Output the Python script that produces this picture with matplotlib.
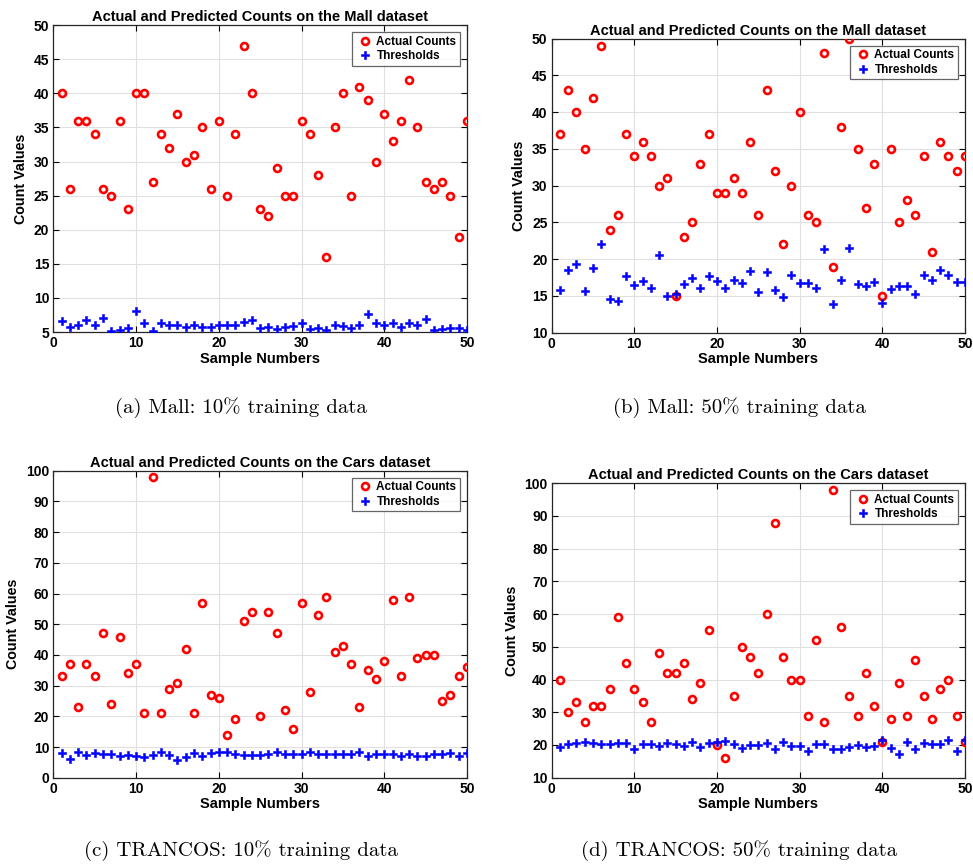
import matplotlib
matplotlib.use("Agg")
import matplotlib.pyplot as plt
import numpy as np

# sample index 1..50
samples = np.arange(1, 51)

# (a) Mall, 10% training
mall10_actual = [40, 26, 36, 36, 34, 26, 25, 36, 23, 40,
                 40, 27, 34, 32, 37, 30, 31, 35, 26, 36,
                 25, 34, 47, 40, 23, 22, 29, 25, 25, 36,
                 34, 28, 16, 35, 40, 25, 41, 39, 30, 37,
                 33, 36, 42, 35, 27, 26, 27, 25, 19, 36]
mall10_thresh = [6.6, 5.7, 6.0, 6.7, 6.0, 7.1, 5.1, 5.35, 5.6, 8.1,
                 6.4, 5.1, 6.3, 6.1, 6.0, 5.7, 6.1, 5.7, 5.7, 6.0,
                 6.0, 6.0, 6.5, 6.7, 5.65, 5.8, 5.5, 5.7, 5.9, 6.4,
                 5.45, 5.65, 5.3, 6.0, 5.9, 5.65, 6.0, 7.7, 6.3, 6.1,
                 6.3, 5.7, 6.4, 6.1, 6.85, 5.25, 5.5, 5.65, 5.55, 5.35]

# (b) Mall, 50% training
mall50_actual = [37, 43, 40, 35, 42, 49, 24, 26, 37, 34,
                 36, 34, 30, 31, 15, 23, 25, 33, 37, 29,
                 29, 31, 29, 36, 26, 43, 32, 22, 30, 40,
                 26, 25, 48, 19, 38, 50, 35, 27, 33, 15,
                 35, 25, 28, 26, 34, 21, 36, 34, 32, 34]
mall50_thresh = [15.8, 18.5, 19.3, 15.7, 18.75, 22.1, 14.6, 14.35, 17.75, 16.5,
                 17.0, 16.1, 20.6, 15.0, 15.2, 16.6, 17.4, 16.1, 17.75, 17.0,
                 16.1, 17.1, 16.8, 18.4, 15.6, 18.2, 15.8, 14.8, 17.85, 16.7,
                 16.7, 16.1, 21.4, 13.9, 17.1, 21.5, 16.6, 16.35, 16.9, 14.1,
                 16.0, 16.3, 16.4, 15.3, 17.85, 17.1, 18.5, 17.85, 16.9, 16.85]

# (c) TRANCOS, 10% training
cars10_actual = [33, 37, 23, 37, 33, 47, 24, 46, 34, 37,
                 21, 98, 21, 29, 31, 42, 21, 57, 27, 26,
                 14, 19, 51, 54, 20, 54, 47, 22, 16, 57,
                 28, 53, 59, 41, 43, 37, 23, 35, 32, 38,
                 58, 33, 59, 39, 40, 40, 25, 27, 33, 36]
cars10_thresh = [8.1, 6.2, 8.4, 7.5, 8.0, 7.7, 7.7, 7.2, 7.5, 7.1,
                 6.7, 7.3, 8.5, 7.3, 5.9, 6.8, 8.1, 7.2, 8.1, 8.4,
                 8.4, 7.8, 7.3, 7.3, 7.3, 7.6, 8.4, 7.8, 7.7, 7.6,
                 8.4, 7.8, 7.8, 7.6, 7.7, 7.7, 8.4, 7.0, 7.7, 7.7,
                 7.6, 7.0, 7.7, 7.0, 7.2, 7.7, 7.7, 7.9, 7.2, 7.9]

# (d) TRANCOS, 50% training
cars50_actual = [40, 30, 33, 27, 32, 32, 37, 59, 45, 37,
                 33, 27, 48, 42, 42, 45, 34, 39, 55, 20,
                 16, 35, 50, 47, 42, 60, 88, 47, 40, 40,
                 29, 52, 27, 98, 56, 35, 29, 42, 32, 21,
                 28, 39, 29, 46, 35, 28, 37, 40, 29, 21]
cars50_thresh = [19.3, 20.3, 20.7, 21.0, 20.6, 20.4, 20.4, 20.6, 20.6, 18.9,
                 20.4, 20.4, 19.8, 20.6, 20.4, 19.6, 21.0, 19.3, 20.7, 20.9,
                 21.3, 20.3, 19.2, 20.1, 20.1, 20.7, 18.9, 21.0, 19.7, 19.6,
                 18.2, 20.4, 20.4, 18.9, 18.9, 19.3, 20.0, 19.3, 19.8, 21.6,
                 19.2, 17.3, 21.0, 18.9, 20.6, 20.4, 20.4, 21.4, 18.2, 21.4]

titles = ["Actual and Predicted Counts on the Mall dataset",
          "Actual and Predicted Counts on the Mall dataset",
          "Actual and Predicted Counts on the Cars dataset",
          "Actual and Predicted Counts on the Cars dataset"]
captions = ["(a) Mall: 10% training data",
            "(b) Mall: 50% training data",
            "(c) TRANCOS: 10% training data",
            "(d) TRANCOS: 50% training data"]
ylims = [(5, 50), (10, 50), (0, 100), (10, 100)]
yticks = [np.arange(5, 51, 5), np.arange(10, 51, 5),
          np.arange(0, 101, 10), np.arange(10, 101, 10)]

panels = [(mall10_actual, mall10_thresh), (mall50_actual, mall50_thresh),
          (cars10_actual, cars10_thresh), (cars50_actual, cars50_thresh)]

# axes rectangles in figure fraction (left, bottom, width, height)
rects = [(0.0548, 0.617, 0.4252, 0.354),
         (0.567, 0.6163, 0.4248, 0.339),
         (0.0548, 0.103, 0.4252, 0.354),
         (0.567, 0.103, 0.4248, 0.3396)]
caption_pos = [(241 / 973, 1 - 408 / 867), (739 / 973, 1 - 408 / 867),
               (241 / 973, 1 - 851 / 867), (739 / 973, 1 - 851 / 867)]

plt.rcParams['font.family'] = ['Liberation Sans', 'DejaVu Sans']
plt.rcParams['font.weight'] = 'bold'

fig = plt.figure(figsize=(9.73, 8.67), dpi=100, facecolor='white')

for i in range(4):
    ax = fig.add_axes(rects[i])
    actual, thresh = panels[i]
    ax.plot(samples, actual, linestyle='none', marker='o', markersize=5,
            markerfacecolor='none', markeredgecolor='#ff0000',
            markeredgewidth=1.9, label='Actual Counts', zorder=3)
    ax.plot(samples, thresh, linestyle='none', marker='P', markersize=5.5,
            color='#0000ff', markeredgecolor='#0000ff', markeredgewidth=0.4,
            label='Thresholds', zorder=3)

    ax.set_xlim(0, 50)
    ax.set_ylim(*ylims[i])
    ax.set_xticks(np.arange(0, 51, 10))
    ax.set_yticks(yticks[i])
    ax.grid(True, color='#e0e0e0', linewidth=0.8)
    ax.set_axisbelow(True)
    ax.tick_params(direction='in', top=True, right=True, length=4,
                   width=0.8, labelsize=10, pad=3)
    for lbl in ax.get_xticklabels() + ax.get_yticklabels():
        lbl.set_fontweight('bold')
    for sp in ax.spines.values():
        sp.set_linewidth(0.9)
        sp.set_color('#262626')

    ax.set_title(titles[i], fontsize=10.5, fontweight='bold', pad=3)
    ax.set_xlabel('Sample Numbers', fontsize=10.5, fontweight='bold', labelpad=1)
    ax.set_ylabel('Count Values', fontsize=10.3, fontweight='bold', labelpad=4)

    leg = ax.legend(loc='upper right', fontsize=8.5, frameon=True, fancybox=False,
                    borderpad=0.3, handletextpad=0.2, handlelength=1.6,
                    borderaxespad=0.6, labelspacing=0.2)
    leg.get_frame().set_edgecolor('#404040')
    leg.get_frame().set_linewidth(0.9)
    for t in leg.get_texts():
        t.set_fontweight('bold')

    fig.text(caption_pos[i][0], caption_pos[i][1], captions[i],
             ha='center', va='center', fontsize=15, family='cmr10',
             fontweight='normal')

fig.savefig('out.png', dpi=100, facecolor='white')
